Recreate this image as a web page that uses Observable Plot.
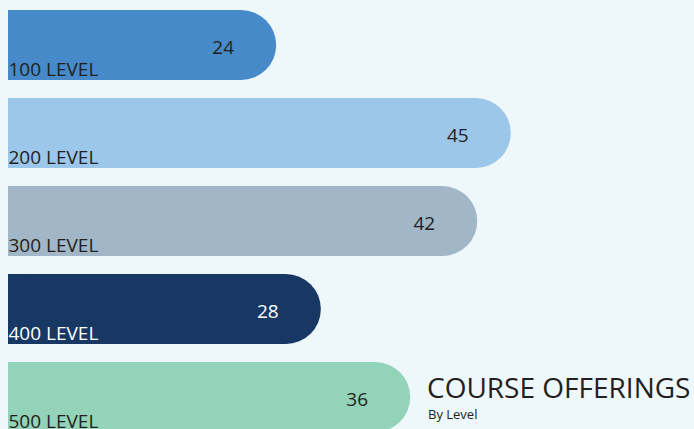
<!DOCTYPE html>
<html>
<head>
<meta charset="utf-8">
<script src="https://cdn.jsdelivr.net/npm/d3@7"></script>
<script src="https://cdn.jsdelivr.net/npm/@observablehq/plot@0.6"></script>
<style>
  html, body { margin: 0; padding: 0; background: #eef7fa; overflow: hidden; }
  #chart { width: 694px; height: 429px; position: relative; }
  svg { display: block; }
</style>
</head>
<body>
<div id="chart"></div>
<script>
const levels = ["100 LEVEL", "200 LEVEL", "300 LEVEL", "400 LEVEL", "500 LEVEL"];
const counts = [24, 45, 42, 28, 36];
const barColors = ["#468ac9", "#9bc7ea", "#a1b6c7", "#173863", "#92d3b9"];
const valueColors = ["#231f20", "#231f20", "#231f20", "#ffffff", "#231f20"];
const labelColors = ["#231f20", "#231f20", "#231f20", "#ffffff", "#231f20"];
const title = "COURSE OFFERINGS";
const subtitle = "By Level";

const data = levels.map((level, i) => ({
  level, count: counts[i], half: counts[i] / 2,
  fill: barColors[i], vfill: valueColors[i], lfill: labelColors[i]
}));

const font = "'Open Sans', sans-serif";

const chart = Plot.plot({
  width: 694,
  height: 429,
  margin: 0,
  style: { background: "#eef7fa", fontFamily: font, overflow: "hidden" },
  x: { domain: [0, 61.4], range: [8, 694], axis: null },
  y: { domain: levels, range: [10, 432], paddingInner: 0.2045, paddingOuter: 0, round: false, axis: null },
  marks: [
    Plot.barX(data, { x1: 0, x2: "half", y: "level", fill: "fill" }),
    Plot.barX(data, { x1: 0, x2: "count", y: "level", fill: "fill", rx: 35 }),
    Plot.text(data, {
      x: "count", y: "level", text: d => String(d.count),
      dx: -53.5, dy: 2, textAnchor: "middle", fill: "vfill", fontSize: 19
    }),
    Plot.text(data, {
      x: 0, y: "level", text: "level",
      dx: 0, dy: 24, textAnchor: "start", fill: "lfill", fontSize: 19
    })
  ]
});

document.getElementById("chart").appendChild(chart);

const svg = d3.select(chart);
svg.append("text")
  .attr("x", 427).attr("y", 398)
  .attr("text-anchor", "start")
  .attr("font-family", font).attr("font-size", 28)
  .attr("fill", "#231f20")
  .text(title);
svg.append("text")
  .attr("x", 428).attr("y", 419)
  .attr("text-anchor", "start")
  .attr("font-family", font).attr("font-size", 13)
  .attr("fill", "#231f20")
  .text(subtitle);
</script>
</body>
</html>
